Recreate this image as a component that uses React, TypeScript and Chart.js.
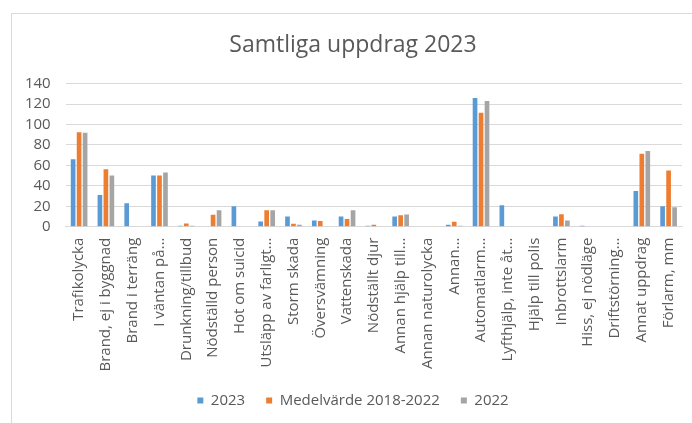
import React, { useEffect, useRef } from "react";
import { Chart, registerables } from "chart.js";

Chart.register(...registerables);

const categories = [
  "Trafikolycka",
  "Brand, ej i byggnad",
  "Brand i terräng",
  "I väntan på…",
  "Drunkning/tillbud",
  "Nödställd person",
  "Hot om suicid",
  "Utsläpp av farligt…",
  "Storm skada",
  "Översvämning",
  "Vattenskada",
  "Nödställt djur",
  "Annan hjälp till…",
  "Annan naturolycka",
  "Annan…",
  "Automatlarm…",
  "Lyfthjälp, inte åt…",
  "Hjälp till polis",
  "Inbrottslarm",
  "Hiss, ej nödläge",
  "Driftstörning…",
  "Annat uppdrag",
  "Förlarm, mm",
];

const values2023 = [66, 31, 23, 50, 1, 0, 20, 5, 10, 6, 10, 1, 10, 0, 2, 126, 21, 0, 10, 1, 0, 35, 20];
const valuesAverage = [92.4, 56.2, 0, 50, 3.2, 11.6, 0, 16, 3, 5.6, 7.6, 1.8, 11.2, 0, 4.8, 111.4, 0, 0, 12.2, 0, 0, 71.4, 55];
const values2022 = [92, 50, 0, 53, 1, 16, 0, 16, 2, 0, 16, 0, 12, 0, 1, 123, 0, 0, 6, 0, 0, 74, 19];

const seriesLabels = ["2023", "Medelvärde 2018-2022", "2022"];
const seriesColors = ["#5B9BD5", "#ED7D31", "#A5A5A5"];

const yTicks = [0, 20, 40, 60, 80, 100, 120, 140];

const FONT = "'Open Sans', 'DejaVu Sans', sans-serif";
const TEXT = "#595959";
const GRID = "#D9D9D9";

export default function App() {
  const canvasRef = useRef<HTMLCanvasElement | null>(null);

  useEffect(() => {
    document.body.style.margin = "0";
    const canvas = canvasRef.current;
    if (!canvas) return;
    const chart = new Chart(canvas, {
      type: "bar",
      data: {
        labels: categories,
        datasets: [values2023, valuesAverage, values2022].map((data, i) => ({
          label: seriesLabels[i],
          data,
          backgroundColor: seriesColors[i],
          borderWidth: 0,
          categoryPercentage: 0.67,
          barPercentage: 0.78,
        })),
      },
      options: {
        responsive: false,
        animation: false,
        devicePixelRatio: 1,
        layout: { padding: { left: 24, right: 30, top: 0, bottom: 5 } },
        plugins: {
          title: {
            display: true,
            text: "Samtliga uppdrag 2023",
            color: TEXT,
            font: { family: FONT, size: 23, weight: "normal" },
            padding: { top: 32, bottom: 24 },
          },
          legend: {
            position: "bottom",
            labels: {
              color: TEXT,
              font: { family: FONT, size: 15 },
              boxWidth: 6,
              boxHeight: 6,
              padding: 21,
            },
          },
          tooltip: { enabled: false },
        },
        scales: {
          x: {
            grid: { display: false, drawTicks: false },
            border: { display: true, color: GRID, width: 1 },
            ticks: {
              color: TEXT,
              font: { family: FONT, size: 15 },
              autoSkip: false,
              minRotation: 90,
              maxRotation: 90,
              padding: 11,
            },
            afterFit: (scale: any) => {
              scale.height = 145.3;
            },
          },
          y: {
            min: 0,
            max: 140,
            afterBuildTicks: (scale: any) => {
              scale.ticks = yTicks.map((v) => ({ value: v }));
            },
            grid: { color: GRID, lineWidth: 1, drawTicks: false },
            border: { display: false },
            ticks: {
              color: TEXT,
              font: { family: FONT, size: 15 },
              padding: 15,
              autoSkip: false,
            },
            afterFit: (scale: any) => {
              scale.width = 41.7;
            },
          },
        },
      },
    });
    return () => chart.destroy();
  }, []);

  return (
    <div style={{ position: "relative", width: 692, height: 423, overflow: "hidden", background: "#fff" }}>
      <div
        style={{
          position: "absolute",
          left: 11,
          top: 13,
          width: 720,
          height: 440,
          border: `1px solid ${GRID}`,
          boxSizing: "border-box",
        }}
      />
      <canvas ref={canvasRef} width={712} height={423} style={{ position: "absolute", left: 0, top: 0 }} />
    </div>
  );
}
